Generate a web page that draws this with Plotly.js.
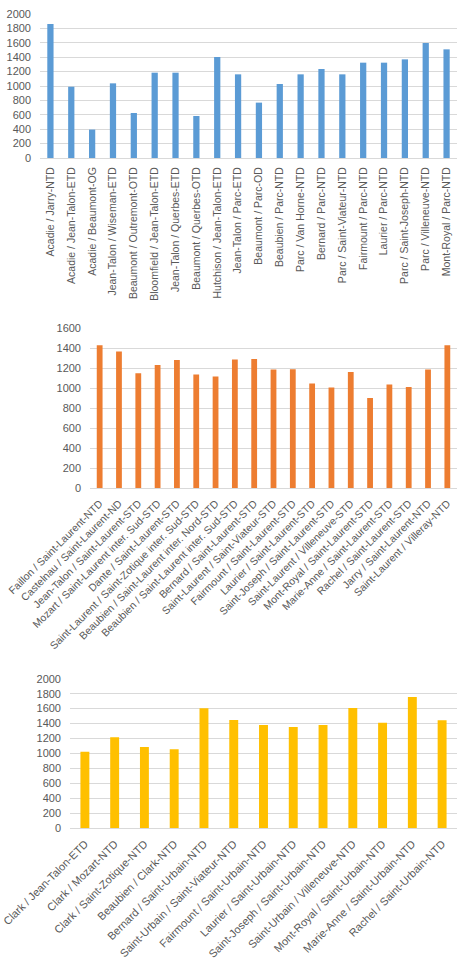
<!DOCTYPE html>
<html>
<head>
<meta charset="utf-8">
<script src="https://cdn.plot.ly/plotly-3.0.1.min.js"></script>
<style>html,body{margin:0;padding:0;background:#fff;}#chart{width:465px;height:966px;}</style>
</head>
<body>
<div id="chart"></div>
<script>
const cats1 = ["Acadie / Jarry-NTD","Acadie / Jean-Talon-ETD","Acadie / Beaumont-OG","Jean-Talon / Wiseman-ETD","Beaumont / Outremont-OTD","Bloomfield / Jean-Talon-ETD","Jean-Talon / Querbes-ETD","Beaumont / Querbes-OTD","Hutchison / Jean-Talon-ETD","Jean-Talon / Parc-ETD","Beaumont / Parc-OD","Beaubien / Parc-NTD","Parc / Van Horne-NTD","Bernard / Parc-NTD","Parc / Saint-Viateur-NTD","Fairmount / Parc-NTD","Laurier / Parc-NTD","Parc / Saint-Joseph-NTD","Parc / Villeneuve-NTD","Mont-Royal / Parc-NTD"];
const vals1 = [1860,990,395,1037,625,1185,1185,583,1403,1162,769,1028,1162,1236,1162,1324,1324,1370,1597,1509];

const cats2 = ["Faillon / Saint-Laurent-NTD","Castelnau / Saint-Laurent-ND","Jean-Talon / Saint-Laurent-STD","Mozart / Saint-Laurent inter. Sud-STD","Dante / Saint-Laurent-STD","Saint-Laurent / Saint-Zotique inter. Sud-STD","Beaubien / Saint-Laurent inter. Nord-STD","Beaubien / Saint-Laurent inter. Sud-STD","Bernard / Saint-Laurent-STD","Saint-Laurent / Saint-Viateur-STD","Fairmount / Saint-Laurent-STD","Laurier / Saint-Laurent-STD","Saint-Joseph / Saint-Laurent-STD","Saint-Laurent / Villeneuve-STD","Mont-Royal / Saint-Laurent-STD","Marie-Anne / Saint-Laurent-STD","Rachel / Saint-Laurent-STD","Jarry / Saint-Laurent-NTD","Saint-Laurent / Villeray-NTD"];
const vals2 = [1430,1367,1150,1233,1283,1137,1117,1287,1293,1187,1190,1047,1007,1163,903,1037,1013,1187,1430];

const cats3 = ["Clark / Jean-Talon-ETD","Clark / Mozart-NTD","Clark / Saint-Zotique-NTD","Beaubien / Clark-NTD","Bernard / Saint-Urbain-NTD","Saint-Urbain / Saint-Viateur-NTD","Fairmount / Saint-Urbain-NTD","Laurier / Saint-Urbain-NTD","Saint-Joseph / Saint-Urbain-NTD","Saint-Urbain / Villeneuve-NTD","Mont-Royal / Saint-Urbain-NTD","Marie-Anne / Saint-Urbain-NTD","Rachel / Saint-Urbain-NTD"];
const vals3 = [1024,1216,1087,1056,1604,1448,1381,1354,1381,1608,1412,1755,1443];

const W = 465, H = 966;
const fx = p => p / W;
const fy = p => 1 - p / H;
const fam = "Liberation Sans, Arial, sans-serif";
const tickFont = {family: fam, size: 11, color: "#595959"};

function yax(dom, max) {
  return {domain: dom, range: [0, max], dtick: 200, tick0: 0, showgrid: true, gridcolor: "#D9D9D9", gridwidth: 1,
    zeroline: false, showline: false, ticks: "", tickfont: tickFont, ticklabelstandoff: 8, fixedrange: true};
}
function xax(dom, angle, anchor, size) {
  return {domain: dom, anchor: anchor, type: "category", showgrid: false, zeroline: false, showline: true,
    linecolor: "#D9D9D9", linewidth: 1, ticks: "", tickangle: angle, tickfont: {family: fam, size: size, color: "#595959"},
    ticklabelstandoff: 4, fixedrange: true};
}

const data = [
  {type: "bar", x: cats1, y: vals1, xaxis: "x", yaxis: "y", marker: {color: "#5B9BD5"}, hoverinfo: "none"},
  {type: "bar", x: cats2, y: vals2, xaxis: "x2", yaxis: "y2", marker: {color: "#ED7D31"}, hoverinfo: "none"},
  {type: "bar", x: cats3, y: vals3, xaxis: "x3", yaxis: "y3", marker: {color: "#FFC000"}, hoverinfo: "none"}
];

const layout = {
  width: W, height: H,
  margin: {l: 0, r: 0, t: 0, b: 0},
  paper_bgcolor: "#fff", plot_bgcolor: "#fff",
  showlegend: false,
  bargap: 0.7,
  xaxis: xax([fx(40), fx(457)], -90, "y", 10.5),
  yaxis: Object.assign(yax([fy(158), fy(14)], 2000), {anchor: "x"}),
  xaxis2: xax([fx(90), fx(457)], -45, "y2", 10.5),
  yaxis2: Object.assign(yax([fy(488.3), fy(328.3)], 1600), {anchor: "x2"}),
  xaxis3: xax([fx(70), fx(457)], -45, "y3", 11),
  yaxis3: Object.assign(yax([fy(828.3), fy(678.7)], 2000), {anchor: "x3"})
};

Plotly.newPlot("chart", data, layout, {displayModeBar: false, staticPlot: true});
</script>
</body>
</html>
